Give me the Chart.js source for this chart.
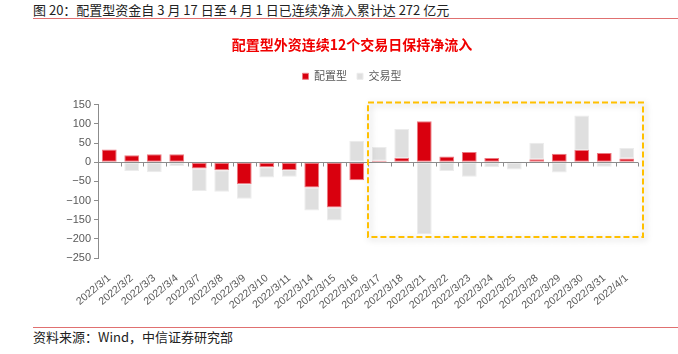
<!DOCTYPE html>
<html>
<head>
<meta charset="utf-8">
<script src="https://cdn.jsdelivr.net/npm/chart.js@4"></script>
<style>
    body { margin: 0; width: 678px; height: 354px; background: #fff; position: relative; overflow: hidden;
           font-family: "Noto Sans CJK SC", "Liberation Sans", sans-serif; }
    .head { position: absolute; left: 33px; top: 1px; font-size: 13px; color: #222; line-height: 17px; }
    .rule { position: absolute; left: 33px; right: 0; height: 1px; background: #e07070; }
    .foot { position: absolute; left: 33px; top: 328px; font-size: 13px; color: #222; line-height: 17px; }
    #wrap { position: absolute; left: 0; top: 28px; width: 678px; height: 298px; }
</style>
</head>
<body>
<div class="head">图 20：配置型资金自 3 月 17 日至 4 月 1 日已连续净流入累计达 272 亿元</div>
<div class="rule" style="top:18px"></div>
<div id="wrap"><canvas id="myChart"></canvas></div>
<div class="rule" style="top:327px"></div>
<div class="foot">资料来源：Wind，中信证券研究部</div>
<script>
const dates = ['2022/3/1', '2022/3/2', '2022/3/3', '2022/3/4', '2022/3/7', '2022/3/8', '2022/3/9', '2022/3/10',
    '2022/3/11', '2022/3/14', '2022/3/15', '2022/3/16', '2022/3/17', '2022/3/18', '2022/3/21', '2022/3/22',
    '2022/3/23', '2022/3/24', '2022/3/25', '2022/3/28', '2022/3/29', '2022/3/30', '2022/3/31', '2022/4/1'];
// 配置型 (allocation) and 交易型 (trading) flows, 亿元
const peizhi = [33, 18, 21, 21, -16, -21, -57, -13, -20, -66, -118, -47, 4, 11, 107, 15, 27, 11, 1, 8, 22, 32, 24, 10];
const jiaoyi = [-2, -23, -26, -10, -59, -56, -38, -27, -18, -60, -34, 56, 36, 76, -188, -23, -38, -13, -19, 43, -27, 90, -12, 27];
const yTicks = [150, 100, 50, 0, -50, -100, -150, -200, -250];
const boxFrom = '2022/3/17';

const ctx = document.getElementById('myChart');

// zero line with small ticks + dashed highlight box
const extras = {
    id: 'extras',
    beforeInit(chart) {
        // leave some room between legend and plot
        const fit = chart.legend.fit;
        chart.legend.fit = function () {
            fit.bind(chart.legend)();
            this.height += 13;
        };
    },
    afterDatasetsDraw(chart) {
        const c = chart.ctx, x = chart.scales.x, y = chart.scales.y, area = chart.chartArea;
        const y0 = Math.round(y.getPixelForValue(0)) + 0.5;
        const step = x.getPixelForValue(1) - x.getPixelForValue(0);
        c.save();
        c.strokeStyle = '#8c8c8c';
        c.lineWidth = 1;
        c.beginPath();
        c.moveTo(area.left, y0);
        c.lineTo(area.right, y0);
        for (let i = 0; i <= dates.length; i++) {
            const px = Math.round(x.getPixelForValue(i) - step / 2) + 0.5;
            c.moveTo(px, y0);
            c.lineTo(px, y0 + 4);
        }
        c.stroke();

        const i0 = dates.indexOf(boxFrom);
        const left = x.getPixelForValue(i0) - step / 2;
        const right = area.right + 5;
        const top = y.getPixelForValue(156);
        const bottom = y.getPixelForValue(-195);
        c.shadowColor = 'rgba(0,0,0,0.25)';
        c.shadowBlur = 6;
        c.shadowOffsetX = 2;
        c.shadowOffsetY = 2;
        c.strokeStyle = '#ffc000';
        c.lineWidth = 2;
        c.setLineDash([6, 3]);
        c.strokeRect(left, top, right - left, bottom - top);
        c.restore();
    }
};

new Chart(ctx, {
    type: 'bar',
    data: {
        labels: dates,
        datasets: [{
            label: '配置型',
            data: peizhi,
            backgroundColor: '#d9000e',
            borderColor: '#ec7a82',
            borderWidth: 1,
            borderSkipped: false,
            barPercentage: 1,
            categoryPercentage: 0.66
        }, {
            label: '交易型',
            data: jiaoyi,
            backgroundColor: '#dfdfdf',
            borderColor: '#ececec',
            borderWidth: 1,
            borderSkipped: false,
            barPercentage: 1,
            categoryPercentage: 0.66
        }]
    },
    options: {
        responsive: true,
        maintainAspectRatio: false,
        animation: false,
        layout: { padding: { left: 66, right: 40, top: 0, bottom: 0 } },
        plugins: {
            title: {
                display: true,
                text: '配置型外资连续12个交易日保持净流入',
                color: '#f00000',
                font: { size: 14, weight: 'bold', family: '"Noto Sans CJK SC"' },
                padding: { top: 8, bottom: 8 }
            },
            legend: {
                labels: {
                    boxWidth: 6,
                    boxHeight: 6,
                    color: '#595959',
                    font: { size: 11, family: '"Noto Sans CJK SC"' },
                    padding: 10
                }
            },
            tooltip: { enabled: false }
        },
        scales: {
            x: {
                stacked: true,
                border: { display: false },
                grid: { display: false },
                ticks: {
                    autoSkip: false,
                    minRotation: 40,
                    maxRotation: 40,
                    color: '#595959',
                    font: { size: 10.5, family: '"Liberation Sans"' },
                    padding: 6
                },
                afterFit(scale) { scale.height = 68; }
            },
            y: {
                stacked: true,
                min: -250,
                max: 150,
                border: { display: true, color: '#8c8c8c' },
                grid: { display: true, drawOnChartArea: false, drawTicks: true, tickLength: 4, color: '#8c8c8c' },
                afterBuildTicks(scale) { scale.ticks = yTicks.map(v => ({ value: v })); },
                ticks: {
                    color: '#595959',
                    font: { size: 11, family: '"Liberation Sans"' },
                    padding: 3,
                    callback: (v) => v < 0 ? '\u2212' + Math.abs(v) : v
                },
                afterFit(scale) { scale.width = 32; }
            }
        }
    },
    plugins: [extras]
});
</script>
</body>
</html>
